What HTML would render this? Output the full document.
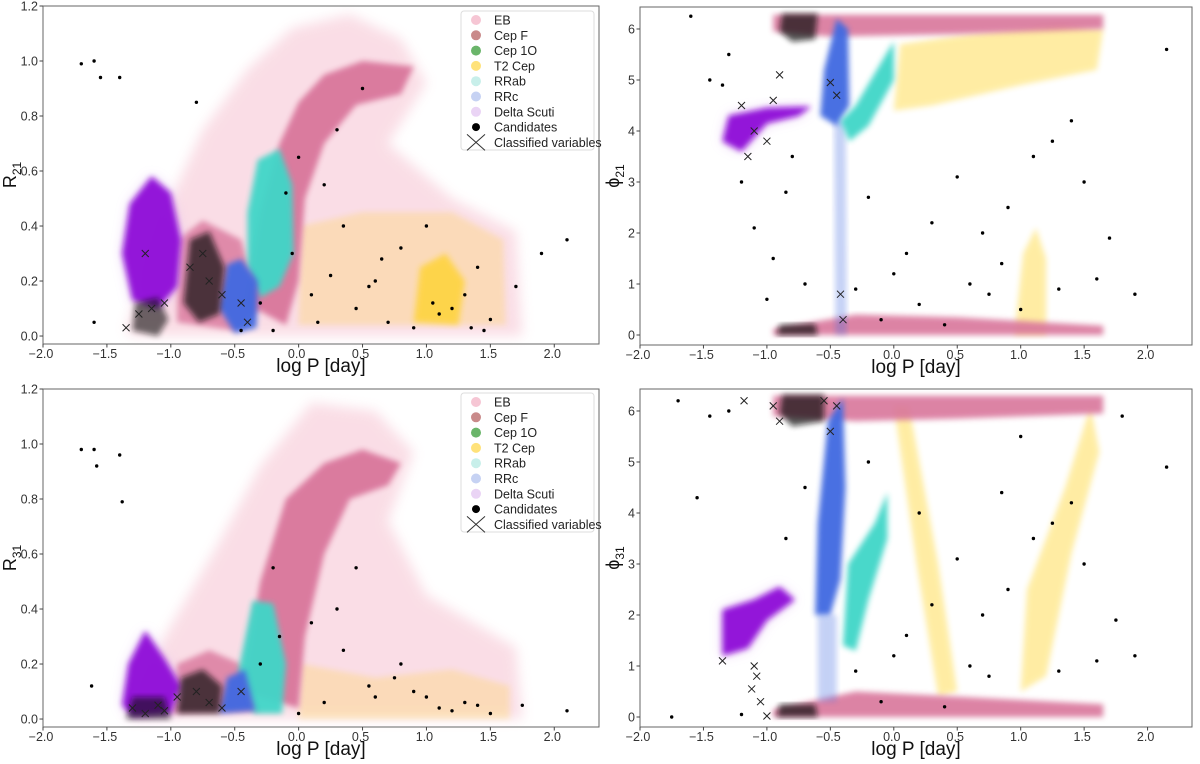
<!DOCTYPE html>
<html><head><meta charset="utf-8">
<style>
html,body{margin:0;padding:0;background:#fff;}
svg{display:block;font-family:"Liberation Sans","DejaVu Sans",sans-serif;}
</style></head>
<body>
<svg id="fig" width="1200" height="764" viewBox="0 0 1200 764" xmlns="http://www.w3.org/2000/svg">
<defs>
<filter id="soft" x="-20%" y="-20%" width="140%" height="140%"><feGaussianBlur stdDeviation="3"/></filter>
<filter id="soft2" x="-20%" y="-20%" width="140%" height="140%"><feGaussianBlur stdDeviation="6"/></filter>
</defs>
</svg>
<script>
// ---------- data (log P [day], feature value) ----------
const xTicks = [-2.0,-1.5,-1.0,-0.5,0.0,0.5,1.0,1.5,2.0];
const xTickLabels = ["\u22122.0","\u22121.5","\u22121.0","\u22120.5","0.0","0.5","1.0","1.5","2.0"];
const rTicks = [0.0,0.2,0.4,0.6,0.8,1.0,1.2];
const rTickLabels = ["0.0","0.2","0.4","0.6","0.8","1.0","1.2"];
const phiTicks = [0,1,2,3,4,5,6];
const phiTickLabels = ["0","1","2","3","4","5","6"];
const legendLabels = ["EB","Cep F","Cep 1O","T2 Cep","RRab","RRc","Delta Scuti","Candidates","Classified variables"];

// Panel R21
const r21EBHalo = [[-1.35,0.02],[-1.1,0.4],[-0.75,0.75],[-0.4,0.97],[-0.05,1.12],[0.4,1.17],[0.8,1.08],[1.0,0.92],[0.7,0.7],[1.2,0.5],[1.7,0.38],[1.75,0.0],[-1.3,0.0]];
const r21EBDense = [[-0.42,0.12],[-0.3,0.45],[-0.15,0.7],[0.0,0.85],[0.2,0.95],[0.5,1.0],[0.9,0.98],[0.8,0.88],[0.45,0.84],[0.2,0.7],[0.05,0.5],[0.0,0.2],[-0.1,0.04]];
const r21EBLow = [[-0.95,0.05],[-0.95,0.35],[-0.75,0.42],[-0.45,0.35],[-0.3,0.1],[-0.5,0.02]];
const r21DS = [[-1.38,0.3],[-1.32,0.48],[-1.15,0.58],[-1.0,0.52],[-0.92,0.35],[-0.95,0.18],[-1.1,0.1],[-1.3,0.13]];
const r21RRc = [[-0.62,0.1],[-0.56,0.26],[-0.45,0.28],[-0.32,0.2],[-0.33,0.03],[-0.5,0.01]];
const r21RRab = [[-0.4,0.45],[-0.32,0.64],[-0.15,0.68],[-0.05,0.55],[-0.04,0.3],[-0.15,0.18],[-0.3,0.14],[-0.4,0.25]];
const r21T2 = [[0.0,0.04],[0.02,0.4],[0.5,0.45],[1.2,0.45],[1.6,0.35],[1.62,0.04]];
const r21T2Dense = [[0.9,0.05],[0.95,0.25],[1.15,0.3],[1.3,0.2],[1.25,0.04]];
const r21CandCluster = [[-0.9,0.12],[-0.85,0.35],[-0.7,0.38],[-0.58,0.25],[-0.62,0.08],[-0.78,0.05]];
const r21CandCluster2 = [[-1.3,0.02],[-1.28,0.12],[-1.1,0.14],[-1.02,0.06],[-1.1,0.0]];
const r21CandX = [-1.7,-1.6,-1.55,-1.4,-1.6,-0.8,-0.1,0.2,0.35,-0.05,-0.3,0.1,0.45,0.7,0.6,0.9,1.05,1.2,1.3,1.5,1.4,1.7,1.9,2.1,0.3,0.5,0.8,0.0,-0.2,1.1,0.25,0.65,1.45,-0.45,0.15,0.55,1.0,1.35];
const r21CandY = [0.99,1.0,0.94,0.94,0.05,0.85,0.52,0.55,0.4,0.3,0.12,0.15,0.1,0.05,0.2,0.03,0.12,0.1,0.15,0.06,0.25,0.18,0.3,0.35,0.75,0.9,0.32,0.65,0.02,0.08,0.22,0.28,0.02,0.02,0.05,0.18,0.4,0.03];
const r21XX = [-1.35,-1.25,-1.15,-1.05,-0.85,-0.75,-0.7,-0.6,-0.45,-0.4,-1.2];
const r21XY = [0.03,0.08,0.1,0.12,0.25,0.3,0.2,0.15,0.12,0.05,0.3];

// Panel phi21
const p21EBTop = [[-0.95,5.95],[-0.95,6.28],[1.65,6.28],[1.65,6.0],[0.5,5.9],[-0.5,5.85]];
const p21EBBot = [[-0.95,0.0],[-0.95,0.12],[-0.3,0.4],[0.5,0.35],[1.65,0.18],[1.65,0.0]];
const p21DS = [[-1.35,3.8],[-1.3,4.3],[-1.0,4.45],[-0.65,4.48],[-0.75,4.3],[-1.0,4.15],[-1.2,3.6]];
const p21RRc = [[-0.58,4.3],[-0.55,5.2],[-0.45,6.2],[-0.36,6.0],[-0.35,4.5],[-0.45,4.1]];
const p21RRcTail = [[-0.46,0.0],[-0.47,4.2],[-0.38,4.2],[-0.37,0.0]];
const p21RRab = [[-0.42,4.2],[-0.3,4.5],[-0.05,5.55],[0.0,5.75],[0.0,5.0],[-0.2,4.1],[-0.35,3.8]];
const p21T2Top = [[0.0,4.4],[0.05,5.7],[0.6,5.9],[1.3,6.1],[1.65,6.0],[1.6,5.2],[1.0,4.9],[0.3,4.5]];
const p21T2Col = [[0.95,0.0],[1.02,1.6],[1.12,2.1],[1.2,1.5],[1.2,0.0]];
const p21CandTop = [[-0.9,5.95],[-0.88,6.3],[-0.6,6.3],[-0.62,5.8],[-0.8,5.75]];
const p21CandBot = [[-0.92,0.0],[-0.9,0.2],[-0.62,0.22],[-0.6,0.0]];
const p21CandX = [-1.6,-1.45,-1.3,-1.2,-1.1,-0.95,-0.85,-0.7,-0.2,0.1,0.3,0.5,0.75,0.9,1.1,1.3,1.5,1.7,1.9,2.15,-0.1,0.2,0.6,0.85,1.0,1.25,0.4,-0.3,-1.0,-0.8,0.0,0.7,1.4,1.6,-1.35];
const p21CandY = [6.25,5.0,5.5,3.0,2.1,1.5,2.8,1.0,2.7,1.6,2.2,3.1,0.8,2.5,3.5,0.9,3.0,1.9,0.8,5.6,0.3,0.6,1.0,1.4,0.5,3.8,0.2,0.9,0.7,3.5,1.2,2.0,4.2,1.1,4.9];
const p21XX = [-1.2,-1.1,-1.0,-0.95,-1.15,-0.5,-0.45,-0.42,-0.4,-0.9];
const p21XY = [4.5,4.0,3.8,4.6,3.5,4.95,4.7,0.8,0.3,5.1];

// Panel R31
const r31EBHalo = [[-1.35,0.0],[-1.05,0.3],[-0.65,0.62],[-0.3,0.92],[0.1,1.15],[0.6,1.12],[0.9,0.97],[0.7,0.72],[1.0,0.45],[1.7,0.26],[1.75,0.0]];
const r31EBDense = [[-0.45,0.1],[-0.3,0.5],[-0.1,0.8],[0.2,0.93],[0.5,0.98],[0.8,0.93],[0.7,0.85],[0.4,0.8],[0.2,0.6],[0.05,0.3],[0.0,0.04]];
const r31EBLow = [[-1.0,0.02],[-0.95,0.2],[-0.7,0.25],[-0.45,0.2],[-0.3,0.03]];
const r31DS = [[-1.38,0.05],[-1.33,0.2],[-1.2,0.32],[-1.05,0.22],[-0.92,0.12],[-1.0,0.02],[-1.3,0.01]];
const r31RRc = [[-0.62,0.02],[-0.56,0.15],[-0.42,0.18],[-0.34,0.03]];
const r31RRab = [[-0.47,0.18],[-0.36,0.43],[-0.2,0.42],[-0.1,0.2],[-0.13,0.02],[-0.35,0.02]];
const r31T2 = [[0.0,0.0],[0.02,0.2],[0.6,0.15],[1.2,0.18],[1.65,0.12],[1.65,0.0]];
const r31CandCluster = [[-0.95,0.02],[-0.92,0.15],[-0.75,0.18],[-0.6,0.12],[-0.62,0.02]];
const r31CandCluster2 = [[-1.35,0.0],[-1.3,0.08],[-1.05,0.08],[-1.0,0.0]];
const r31CandX = [-1.7,-1.6,-1.58,-1.4,-1.38,-1.62,-0.2,0.1,0.3,0.45,-0.3,0.6,0.9,1.1,1.3,1.5,1.75,2.1,0.2,0.55,0.0,0.75,1.0,1.2,-0.15,0.35,0.8,1.4];
const r31CandY = [0.98,0.98,0.92,0.96,0.79,0.12,0.55,0.35,0.4,0.55,0.2,0.08,0.1,0.04,0.06,0.02,0.05,0.03,0.06,0.12,0.02,0.15,0.08,0.03,0.3,0.25,0.2,0.05];
const r31XX = [-1.3,-1.2,-1.1,-0.95,-0.8,-0.7,-0.6,-0.45,-1.05];
const r31XY = [0.04,0.02,0.05,0.08,0.1,0.06,0.04,0.1,0.03];

// Panel phi31
const p31EBTop = [[-0.95,5.9],[-0.95,6.3],[1.65,6.3],[1.65,5.95],[0.5,5.85],[-0.3,5.8]];
const p31EBBot = [[-0.95,0.0],[-0.95,0.15],[-0.3,0.5],[0.5,0.4],[1.65,0.25],[1.65,0.0]];
const p31DS = [[-1.35,1.2],[-1.35,2.1],[-1.1,2.3],[-0.9,2.55],[-0.78,2.3],[-1.0,1.9],[-1.15,1.35]];
const p31RRc = [[-0.62,2.0],[-0.6,3.8],[-0.52,5.8],[-0.4,6.25],[-0.38,4.5],[-0.42,2.7],[-0.5,2.0]];
const p31RRcTail = [[-0.6,0.3],[-0.6,2.0],[-0.45,2.0],[-0.45,0.3]];
const p31RRab = [[-0.4,1.4],[-0.36,3.0],[-0.15,3.8],[-0.05,4.4],[-0.05,3.5],[-0.2,2.3],[-0.3,1.3]];
const p31T2A = [[0.0,6.1],[0.12,6.1],[0.35,3.0],[0.5,0.5],[0.35,0.4],[0.18,3.0]];
const p31T2B = [[1.0,0.5],[1.05,2.5],[1.35,4.5],[1.55,6.1],[1.62,5.2],[1.4,3.2],[1.2,0.8]];
const p31CandTop = [[-0.9,5.95],[-0.88,6.32],[-0.55,6.32],[-0.55,5.8],[-0.8,5.7]];
const p31CandBot = [[-0.92,0.0],[-0.9,0.25],[-0.62,0.25],[-0.6,0.0]];
const p31CandX = [-1.75,-1.55,-1.7,-1.45,-1.3,-1.2,-0.85,-0.7,-0.2,0.1,0.3,0.5,0.75,0.9,1.1,1.3,1.5,1.75,1.9,2.15,-0.1,0.2,0.6,0.85,1.0,1.25,0.4,-0.3,0.0,0.7,1.4,1.6,1.8];
const p31CandY = [0.0,4.3,6.2,5.9,6.0,0.05,3.5,4.5,5.0,1.6,2.2,3.1,0.8,2.5,3.5,0.9,3.0,1.9,1.2,4.9,0.3,4.0,1.0,4.4,5.5,3.8,0.2,0.9,1.2,2.0,4.2,1.1,5.9];
const p31XX = [-1.1,-1.08,-1.12,-1.05,-1.0,-1.35,-1.18,-0.95,-0.9,-0.55,-0.5,-0.45];
const p31XY = [1.0,0.8,0.55,0.3,0.02,1.1,6.2,6.1,5.8,6.2,5.6,6.1];

// ---------- rendering ----------
const NS = "http://www.w3.org/2000/svg";
const svg = document.getElementById("fig");
const COL = {ebL:"#f4b6c8", eb:"#d9769b", t2:"#ffd21a", rrab:"#40d6c8", rrc:"#4169e1", ds:"#8f0fd8", dsL:"#dcb2f0"};

function mk(tag, attrs, parent){
  const e = document.createElementNS(NS, tag);
  for (const k in attrs) e.setAttribute(k, attrs[k]);
  (parent||svg).appendChild(e);
  return e;
}
function makeAxes(g){
  const sx = v => g.x0 + (v - g.xmin) / (g.xmax - g.xmin) * (g.x1 - g.x0);
  const sy = v => g.yb - (v - g.ymin) / (g.ymax - g.ymin) * (g.yb - g.yt);
  return {sx, sy};
}
function poly(ax, pts, fill, op, filt, parent, name){
  const d = pts.map(p => ax.sx(p[0]).toFixed(1)+","+ax.sy(p[1]).toFixed(1)).join(" ");
  const e = mk("polygon", {points:d, fill:fill, opacity:op}, parent);
  if (filt) e.setAttribute("filter", "url(#"+filt+")");
  
  
  return e;
}
function dots(ax, xs, ys, parent, name){
  const g = mk("g", {}, parent);
  
  
  for (let i=0;i<xs.length;i++){
    const c = mk("circle", {cx:ax.sx(xs[i]).toFixed(1), cy:ax.sy(ys[i]).toFixed(1), r:1.7, fill:"#000"}, g);
    
    
  }
}
function crosses(ax, xs, ys, parent, name){
  const g = mk("g", {stroke:"#222", "stroke-width":1}, parent);
  
  
  for (let i=0;i<xs.length;i++){
    const x = ax.sx(xs[i]), y = ax.sy(ys[i]), s = 3.5;
    const p = mk("path", {d:`M${x-s},${y-s}L${x+s},${y+s}M${x-s},${y+s}L${x+s},${y-s}`}, g);
    
    
  }
}
function frame(g, ax, yTicks, yLabels, ylabelHTML, name){
  const grp = mk("g", {});
  
  
  mk("rect", {x:g.x0, y:g.yt, width:g.x1-g.x0, height:g.yb-g.yt, fill:"none", stroke:"#666", "stroke-width":1}, grp);
  xTicks.forEach((t,i) => {
    const x = ax.sx(t);
    mk("line", {x1:x, x2:x, y1:g.yb, y2:g.yb+3.5, stroke:"#444"}, grp);
    const tx = mk("text", {x:x-2, y:g.yb+14, "text-anchor":"middle", "font-size":12.5, fill:"#333"}, grp);
    tx.textContent = xTickLabels[i];
    
    
  });
  yTicks.forEach((t,i) => {
    const y = ax.sy(t);
    mk("line", {x1:g.x0-3.5, x2:g.x0, y1:y, y2:y, stroke:"#444"}, grp);
    const tx = mk("text", {x:g.x0-5, y:y+4.5, "text-anchor":"end", "font-size":12.5, fill:"#333"}, grp);
    tx.textContent = yLabels[i];
    
    
  });
  const xl = mk("text", {x:(g.x0+g.x1)/2, y:g.yb+28, "text-anchor":"middle", "font-size":19, fill:"#111"}, grp);
  xl.textContent = "log P [day]";
  
  
  const yc = (g.yt+g.yb)/2;
  const yl = mk("text", {x:0, y:0, "text-anchor":"middle", "font-size":18, fill:"#111", transform:`translate(${g.ylx},${yc}) rotate(-90)`}, grp);
  yl.innerHTML = ylabelHTML;
  
  
}
function legend(x, y){
  const g = mk("g", {});
  
  
  mk("rect", {x:x, y:y, width:133, height:139, rx:3, fill:"#fff", "fill-opacity":0.85, stroke:"#ddd"}, g);
  const cols = ["#f6c6d4","#c98a8a","#6ab56a","#ffe27a","#c8efea","#c6d2f3","#ead4f5"];
  legendLabels.forEach((lab,i) => {
    const cy = y+9+i*15.3;
    const row = mk("g", {}, g);
    
    
    if (i < 7) mk("circle", {cx:x+15, cy:cy, r:5, fill:cols[i]}, row);
    else if (i === 7) mk("circle", {cx:x+15, cy:cy, r:4, fill:"#000"}, row);
    else mk("path", {d:`M${x+6},${cy-8}L${x+24},${cy+8}M${x+6},${cy+8}L${x+24},${cy-8}`, stroke:"#333", "stroke-width":1}, row);
    const t = mk("text", {x:x+33, y:cy+4.5, "font-size":12.5, fill:"#222"}, row);
    t.textContent = lab;
  });
}

function rPanel(g, d, ylab, name){
  const ax = makeAxes(g);
  const grp = mk("g", {});
  
  
  poly(ax, d.ebHalo, COL.ebL, 0.45, "soft2", grp, 'eb-sparse-cloud');
  poly(ax, d.t2, COL.t2, 0.22, "soft", grp, 't2cep-cloud');
  poly(ax, d.ebLow, COL.eb, 0.8, "soft", grp, 'eb-low-cloud');
  poly(ax, d.ebDense, COL.eb, 0.95, "soft", grp, 'eb-dense-cloud');
  if (d.t2Dense) poly(ax, d.t2Dense, COL.t2, 0.7, "soft", grp, 't2cep-dense-cloud');
  poly(ax, d.ds, COL.dsL, 0.8, "soft2", grp, 'delta-scuti-halo');
  poly(ax, d.ds, COL.ds, 0.95, "soft", grp, 'delta-scuti-cloud');
  poly(ax, d.rrab, COL.rrab, 0.95, "soft", grp, 'rrab-cloud');
  poly(ax, d.rrc, COL.rrc, 0.95, "soft", grp, 'rrc-cloud');
  poly(ax, d.cand1, "#111", 0.7, "soft", grp, 'candidate-cluster');
  poly(ax, d.cand2, "#111", 0.6, "soft", grp, 'candidate-cluster');
  dots(ax, d.cx, d.cy, grp, 'candidates');
  crosses(ax, d.xx, d.xy, grp, 'classified-variables');
  frame(g, ax, rTicks, rTickLabels, ylab, name);
}
function pPanel(g, d, ylab, name){
  const ax = makeAxes(g);
  const grp = mk("g", {});
  
  
  poly(ax, d.t2a, COL.t2, 0.4, "soft", grp, 't2cep-cloud');
  poly(ax, d.t2b, COL.t2, 0.4, "soft", grp, 't2cep-cloud');
  poly(ax, d.ebTop, COL.eb, 0.9, "soft", grp, 'eb-top-band');
  poly(ax, d.ebBot, COL.eb, 0.9, "soft", grp, 'eb-bottom-band');
  poly(ax, d.rrcTail, COL.rrc, 0.3, "soft", grp, 'rrc-tail');
  poly(ax, d.ds, COL.dsL, 0.8, "soft2", grp, 'delta-scuti-halo');
  poly(ax, d.ds, COL.ds, 0.95, "soft", grp, 'delta-scuti-cloud');
  poly(ax, d.rrc, COL.rrc, 0.95, "soft", grp, 'rrc-cloud');
  poly(ax, d.rrab, COL.rrab, 0.95, "soft", grp, 'rrab-cloud');
  poly(ax, d.candTop, "#111", 0.7, "soft", grp, 'candidate-cluster');
  poly(ax, d.candBot, "#111", 0.7, "soft", grp, 'candidate-cluster');
  dots(ax, d.cx, d.cy, grp, 'candidates');
  crosses(ax, d.xx, d.xy, grp, 'classified-variables');
  frame(g, ax, phiTicks, phiTickLabels, ylab, name);
}

const gTL = {x0:43, x1:599, yt:6, yb:344, xmin:-2, xmax:2.35, ymin:-0.029, ymax:1.2, ylx:16};
const gTR = {x0:640, x1:1192, yt:7, yb:345, xmin:-2, xmax:2.35, ymin:-0.196, ymax:6.431, ylx:619};
const gBL = {x0:43, x1:599, yt:389, yb:727, xmin:-2, xmax:2.35, ymin:-0.029, ymax:1.2, ylx:16};
const gBR = {x0:640, x1:1192, yt:389, yb:727, xmin:-2, xmax:2.35, ymin:-0.196, ymax:6.431, ylx:619};

rPanel(gTL, {ebHalo:r21EBHalo, ebDense:r21EBDense, ebLow:r21EBLow, ds:r21DS, rrc:r21RRc, rrab:r21RRab, t2:r21T2, t2Dense:r21T2Dense, cand1:r21CandCluster, cand2:r21CandCluster2, cx:r21CandX, cy:r21CandY, xx:r21XX, xy:r21XY}, "R<tspan font-size='12' dy='5'>21</tspan>", 'r21-panel');
pPanel(gTR, {ebTop:p21EBTop, ebBot:p21EBBot, ds:p21DS, rrc:p21RRc, rrcTail:p21RRcTail, rrab:p21RRab, t2a:p21T2Top, t2b:p21T2Col, candTop:p21CandTop, candBot:p21CandBot, cx:p21CandX, cy:p21CandY, xx:p21XX, xy:p21XY}, "\u03d5<tspan font-size='12' dy='5'>21</tspan>", 'phi21-panel');
rPanel(gBL, {ebHalo:r31EBHalo, ebDense:r31EBDense, ebLow:r31EBLow, ds:r31DS, rrc:r31RRc, rrab:r31RRab, t2:r31T2, t2Dense:null, cand1:r31CandCluster, cand2:r31CandCluster2, cx:r31CandX, cy:r31CandY, xx:r31XX, xy:r31XY}, "R<tspan font-size='12' dy='5'>31</tspan>", 'r31-panel');
pPanel(gBR, {ebTop:p31EBTop, ebBot:p31EBBot, ds:p31DS, rrc:p31RRc, rrcTail:p31RRcTail, rrab:p31RRab, t2a:p31T2A, t2b:p31T2B, candTop:p31CandTop, candBot:p31CandBot, cx:p31CandX, cy:p31CandY, xx:p31XX, xy:p31XY}, "\u03d5<tspan font-size='12' dy='5'>31</tspan>", 'phi31-panel');

legend(461, 11);
legend(461, 393);
</script>
</body></html>
